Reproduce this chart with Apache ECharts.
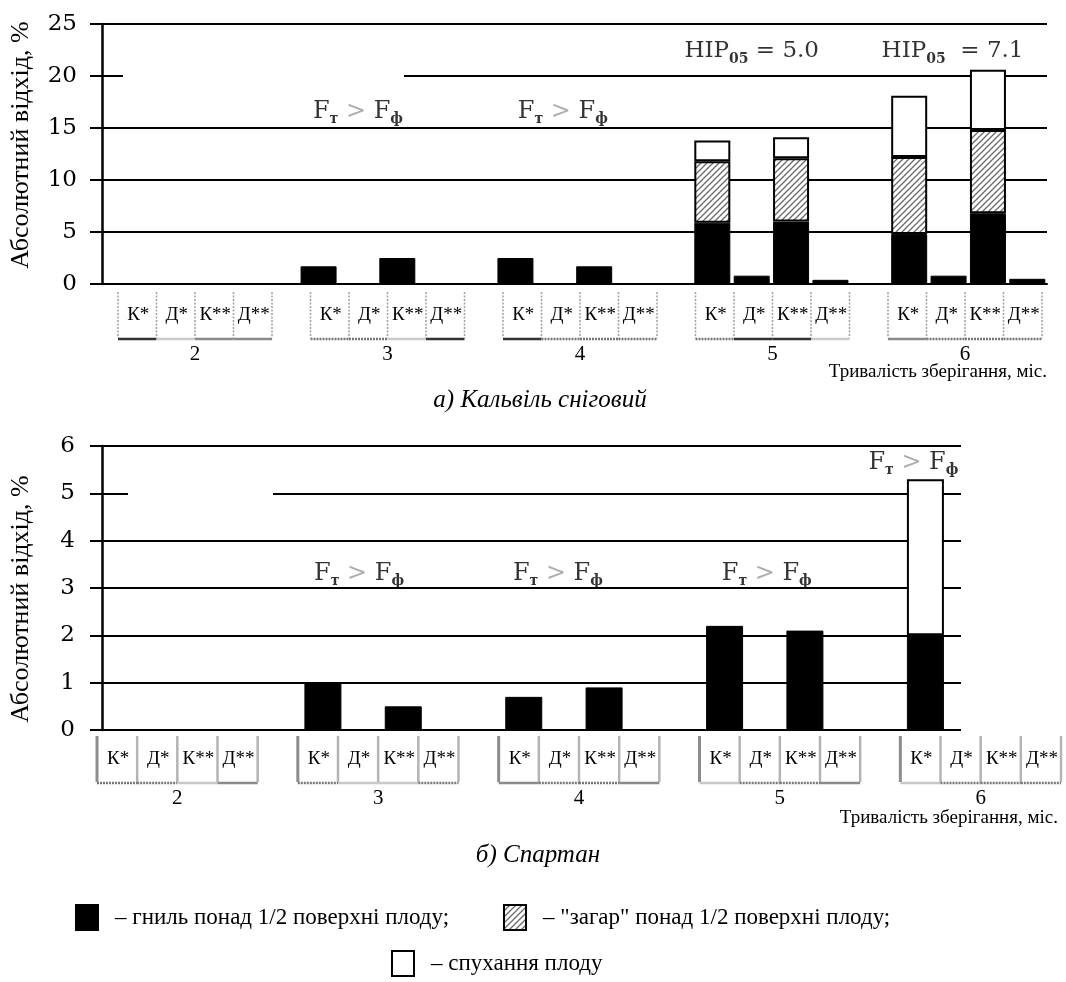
<!DOCTYPE html>
<html><head><meta charset="utf-8">
<script src="https://cdn.jsdelivr.net/npm/echarts@6/dist/echarts.min.js"></script>
<style>html,body{margin:0;padding:0;background:#fff}#c{width:1066px;height:982px}</style>
</head><body><div id="c"></div>
<script>
// ---------- data ----------
const groups = ['2', '3', '4', '5', '6'];
const subs = ['К*', 'Д*', 'К**', 'Д**'];
// Кальвіль сніговий – per group, order К*, Д*, К**, Д**
const kalvilRot   = [[0,0,0,0],[1.7,0,2.5,0],[2.5,0,1.7,0],[5.9,0.8,6.0,0.4],[4.8,0.8,6.8,0.5]];
const kalvilTan   = [[0,0,0,0],[0,0,0,0],[0,0,0,0],[5.9,0,6.1,0],[7.4,0,8.0,0]];
const kalvilSwell = [[0,0,0,0],[0,0,0,0],[0,0,0,0],[2.0,0,2.0,0],[5.9,0,5.8,0]];
// Спартан
const spartanRot   = [[0,0,0,0],[1.0,0,0.5,0],[0.7,0,0.9,0],[2.2,0,2.1,0],[2.0,0,0,0]];
const spartanSwell = [[0,0,0,0],[0,0,0,0],[0,0,0,0],[0,0,0,0],[3.3,0,0,0]];
const kalvilAxis = {min: 0, max: 25, interval: 5};
const spartanAxis = {min: 0, max: 6, interval: 1};
const seriesNames = ['гниль понад 1/2 поверхні плоду', '"загар" понад 1/2 поверхні плоду', 'спухання плоду'];
const xTitle = 'Тривалість зберігання, міс.';
const yTitle = 'Абсолютний відхід, %';
const captions = ['а) Кальвіль сніговий', 'б) Спартан'];
// annotations: [group index, sub index, level, text kind, value text]
const kalvilNotes = [[1,1,16.6,'F',''],[2,1,16.6,'F',''],[3,1,22.4,'HIP','= 5.0'],[4,1,22.4,'HIP',' = 7.1']];
const spartanNotes = [[1,1,3.3,'F',''],[2,1,3.3,'F',''],[3,1,3.3,'F',''],[4,0,5.65,'F','']];
// label nudges for the annotations (style only, px)
const kalvilNoteShift = [0, 8, 0, 4];
const spartanNoteShift = [-4, -6, 2, -12];
// underline tones for the label boxes (style only)
const topTones = ['d','l','m','m','o','o','l','d','d','o','o','o','o','d','d','l','m','o','o','o'];
const botTones = ['o','o','l','m','o','l','l','o','m','o','o','m','l','o','o','m','l','o','o','o'];

// ---------- helpers ----------
const cats = [];
groups.forEach((g, gi) => {
  subs.forEach(s => cats.push(g + ' ' + s));
  if (gi < groups.length - 1) cats.push('gap' + gi);
});
function spread(arr) {
  const out = [];
  arr.forEach((row, gi) => {
    row.forEach(v => out.push(v ? v : '-'));
    if (gi < arr.length - 1) out.push('-');
  });
  return out;
}
function hatch() {
  const c = document.createElement('canvas'); c.width = 6; c.height = 6;
  const x = c.getContext('2d');
  x.fillStyle = '#fff'; x.fillRect(0, 0, 6, 6);
  x.strokeStyle = '#6a6a6a'; x.lineWidth = 1.3;
  x.beginPath();
  x.moveTo(0, 6); x.lineTo(6, 0);
  x.moveTo(-3, 3); x.lineTo(3, -3);
  x.moveTo(3, 9); x.lineTo(9, 3);
  x.stroke();
  return c;
}
const hatchFill = {image: hatch(), repeat: 'repeat'};
const SERIF = '"Liberation Serif", "Times New Roman", serif';
const WIDE = '"DejaVu Serif", serif';

const richNote = {
  f: {fontSize: 24, fontFamily: WIDE, color: '#000', lineHeight: 30},
  s: {fontSize: 14, fontFamily: WIDE, fontWeight: 'bold', color: '#000', lineHeight: 12, verticalAlign: 'bottom'},
  g: {fontSize: 24, fontFamily: WIDE, color: '#999', lineHeight: 30},
  h: {fontSize: 23, fontFamily: WIDE, color: '#000', lineHeight: 30}
};
function noteText(n) {
  if (n[3] === 'F') return '{f|F}{s|т}{g| > }{f|F}{s|ф}';
  return '{h|HIP}{s|05}{h| ' + n[4] + '}';
}
function noteSeries(notes, shifts, xi, yi) {
  return {
    type: 'scatter', xAxisIndex: xi, yAxisIndex: yi, symbolSize: 0, silent: true, z: 10,
    data: notes.map((n, k) => ({value: [n[0] * 5 + n[1], n[2]],
      label: {formatter: noteText(n), offset: [shifts[k], 0]}})),
    label: {show: true, position: 'inside', rich: richNote}
  };
}
const toneStyle = {
  d: {stroke: '#333', lineWidth: 2.5},
  l: {stroke: '#c8c8c8', lineWidth: 2.5},
  m: {stroke: '#8a8a8a', lineWidth: 2.5},
  o: {stroke: '#777', lineWidth: 2.5, lineDash: [2, 1]}
};
function labelSeries(xi, yi, tones, bottomStyle) {
  const data = [];
  groups.forEach((g, gi) => subs.forEach((s, si) => data.push([gi * 5 + si, si, gi])));
  return {
    type: 'custom', xAxisIndex: xi, yAxisIndex: yi, data: data, silent: true, clip: false,
    renderItem: function (params, api) {
      const slot = api.value(0), si = api.value(1), gi = api.value(2);
      const p = api.coord([slot, 0]);
      const sz = api.size([1, 1]);
      const w = sz[0], h = sz[1];
      const x0 = p[0] - w / 2, x1 = p[0] + w / 2, yb = p[1], yt = p[1] - h;
      const sep = bottomStyle
        ? {stroke: '#b4b4b4', lineWidth: 2.5}
        : {stroke: '#a0a0a0', lineWidth: 1.5, lineDash: [2, 1.5]};
      const sepFirst = bottomStyle ? {stroke: '#8c8c8c', lineWidth: 3} : sep;
      const ch = [];
      ch.push({type: 'line', shape: {x1: x0, y1: yt, x2: x0, y2: yb}, style: si === 0 ? sepFirst : sep});
      if (si === 3) ch.push({type: 'line', shape: {x1: x1, y1: yt, x2: x1, y2: yb}, style: sep});
      ch.push({type: 'line', shape: {x1: x0, y1: yb + 1, x2: x1, y2: yb + 1}, style: toneStyle[tones[params.dataIndex]]});
      ch.push({type: 'text', style: {text: subs[si], x: p[0] + 1, y: yt + h / 2, align: 'center', verticalAlign: 'middle',
        font: '19px ' + SERIF, fill: '#000'}});
      if (si === 1) ch.push({type: 'text', style: {text: groups[gi], x: x1, y: yb + 16, align: 'center', verticalAlign: 'middle',
        font: '21px ' + SERIF, fill: '#000'}});
      return {type: 'group', children: ch};
    }
  };
}
function mainX(gi) {
  return {type: 'category', gridIndex: gi, data: cats,
    axisLine: {show: true, lineStyle: {color: '#000', width: 2}}, axisTick: {show: false}, axisLabel: {show: false}};
}
function hiddenX(gi) { return {type: 'category', gridIndex: gi, data: cats, show: false}; }
function mainY(gi, ax, pad, margin) {
  return {type: 'value', gridIndex: gi, min: ax.min, max: ax.max, interval: ax.interval,
    name: yTitle, nameLocation: 'middle', nameRotate: 90, nameGap: 68,
    nameTextStyle: {fontFamily: SERIF, fontSize: 26, color: '#000', padding: pad},
    axisLine: {show: true, lineStyle: {color: '#000', width: 2.5}},
    axisTick: {show: true, length: 12, lineStyle: {color: '#000', width: 2}},
    axisLabel: {fontFamily: WIDE, fontSize: 23, color: '#000', margin: margin},
    splitLine: {show: true, lineStyle: {color: '#000', width: 2}}};
}
function hiddenY(gi) { return {type: 'value', gridIndex: gi, min: 0, max: 1, show: false}; }

const barBase = {type: 'bar', barWidth: 36, silent: true};
const rotStyle = {color: '#000', borderColor: '#000', borderWidth: 1};
const tanStyle = {color: hatchFill, borderColor: '#000', borderWidth: 2};
const swellStyle = {color: '#fff', borderColor: '#000', borderWidth: 2};

const option = {
  animation: false,
  backgroundColor: '#fff',
  grid: [
    {left: 102, top: 24, width: 945, height: 260},
    {left: 118, top: 292, width: 924, height: 46},
    {left: 100, top: 446, width: 966, height: 284},
    {left: 97, top: 736, width: 964, height: 46}
  ],
  xAxis: [mainX(0), hiddenX(1), mainX(2), hiddenX(3)],
  yAxis: [mainY(0, kalvilAxis, [0, 0, 0, 18], 25), hiddenY(1), mainY(2, spartanAxis, [0, 22, 0, 0], 27), hiddenY(3)],
  legend: [0, 1, 2].map(i => ({
    data: [seriesNames[i]],
    left: [70, 498, 386][i], top: [899, 899, 945][i],
    icon: 'rect', itemWidth: 22, itemHeight: 25,
    selectedMode: false,
    formatter: n => '– ' + n + (i < 2 ? ';' : ''),
    textStyle: {fontFamily: SERIF, fontSize: 23, color: '#000', padding: [0, 0, 0, 12]}
  })),
  series: [
    Object.assign({}, barBase, {name: seriesNames[0], stack: 'k', xAxisIndex: 0, yAxisIndex: 0, itemStyle: rotStyle, data: spread(kalvilRot)}),
    Object.assign({}, barBase, {name: seriesNames[1], stack: 'k', xAxisIndex: 0, yAxisIndex: 0, itemStyle: tanStyle, data: spread(kalvilTan)}),
    Object.assign({}, barBase, {name: seriesNames[2], stack: 'k', xAxisIndex: 0, yAxisIndex: 0, itemStyle: swellStyle, data: spread(kalvilSwell)}),
    Object.assign({}, barBase, {name: seriesNames[0], stack: 's', barWidth: 37, xAxisIndex: 2, yAxisIndex: 2, itemStyle: rotStyle, data: spread(spartanRot)}),
    Object.assign({}, barBase, {name: seriesNames[2], stack: 's', barWidth: 37, xAxisIndex: 2, yAxisIndex: 2, itemStyle: swellStyle, data: spread(spartanSwell)}),
    noteSeries(kalvilNotes, kalvilNoteShift, 0, 0),
    noteSeries(spartanNotes, spartanNoteShift, 2, 2),
    labelSeries(1, 1, topTones, false),
    labelSeries(3, 3, botTones, true)
  ],
  graphic: [
    {type: 'rect', z: 5, shape: {x: 123, y: 43, width: 281, height: 49}, style: {fill: '#fff'}},
    {type: 'rect', z: 5, shape: {x: 128, y: 455, width: 145, height: 50}, style: {fill: '#fff'}},
    {type: 'rect', z: 5, shape: {x: 961, y: 436, width: 105, height: 298}, style: {fill: '#fff'}},
    {type: 'text', z: 20, style: {text: xTitle, x: 1047, y: 372, align: 'right', verticalAlign: 'middle', font: '19px ' + SERIF, fill: '#000'}},
    {type: 'text', z: 20, style: {text: xTitle, x: 1058, y: 818, align: 'right', verticalAlign: 'middle', font: '19px ' + SERIF, fill: '#000'}},
    {type: 'text', z: 20, style: {text: captions[0], x: 540, y: 400, align: 'center', verticalAlign: 'middle', font: 'italic 25px ' + SERIF, fill: '#000'}},
    {type: 'text', z: 20, style: {text: captions[1], x: 538, y: 855, align: 'center', verticalAlign: 'middle', font: 'italic 25px ' + SERIF, fill: '#000'}}
  ]
};
const chart = echarts.init(document.getElementById('c'), null, {renderer: 'canvas'});
chart.setOption(option);
</script>
</body></html>
